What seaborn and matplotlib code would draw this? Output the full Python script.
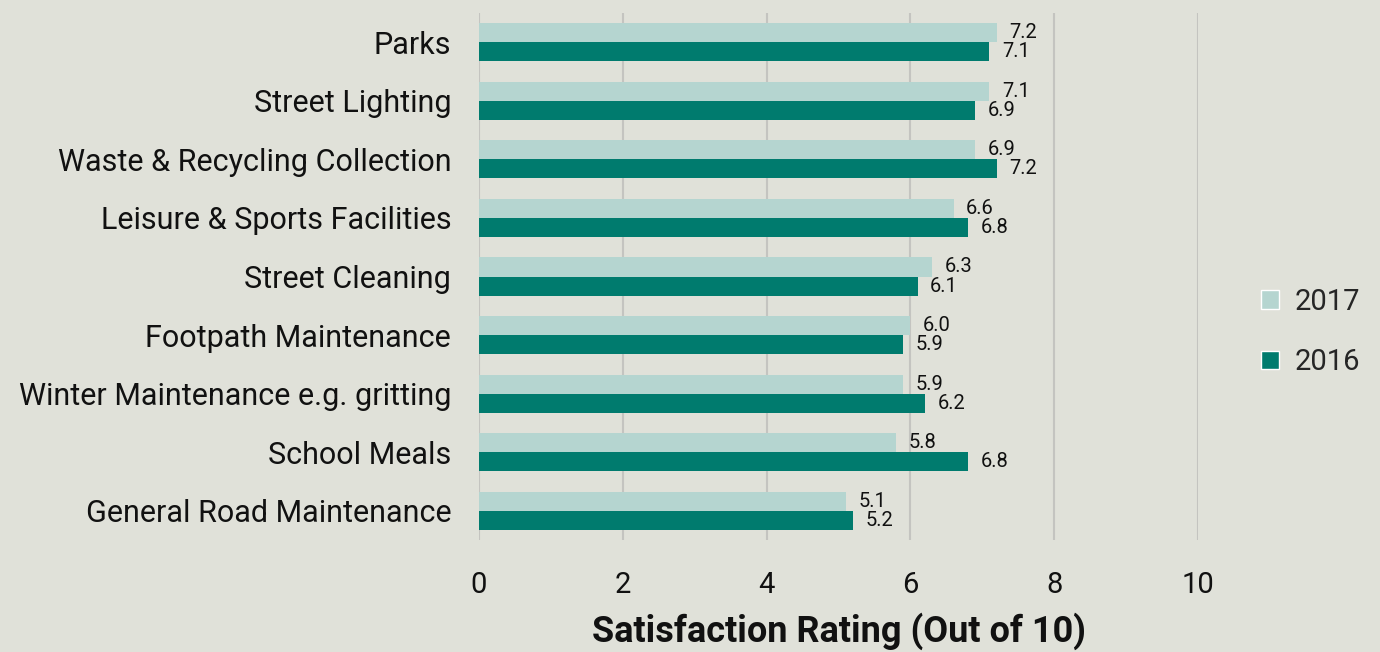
import matplotlib
matplotlib.use("Agg")
import matplotlib.pyplot as plt
import seaborn as sns
import pandas as pd
from matplotlib.patches import Patch

categories = ["Parks", "Street Lighting", "Waste & Recycling Collection",
              "Leisure & Sports Facilities", "Street Cleaning", "Footpath Maintenance",
              "Winter Maintenance e.g. gritting", "School Meals", "General Road Maintenance"]
values_2017 = [7.2, 7.1, 6.9, 6.6, 6.3, 6.0, 5.9, 5.8, 5.1]
values_2016 = [7.1, 6.9, 7.2, 6.8, 6.1, 5.9, 6.2, 6.8, 5.2]
series = ["2017", "2016"]
x_ticks = [0, 2, 4, 6, 8, 10]

BG = "#E0E1D9"
C17 = "#B5D5D0"
C16 = "#007B6E"
FONT = ["Roboto", "DejaVu Sans"]

df = pd.DataFrame({
    "category": categories * 2,
    "year": ["2017"] * len(categories) + ["2016"] * len(categories),
    "value": values_2017 + values_2016,
})

sns.set_theme(style="white")
plt.rcParams["font.family"] = FONT

fig = plt.figure(figsize=(13.8, 6.52), dpi=100, facecolor=BG)
ax = fig.add_axes([479/1380, 1 - 540/652, (1198 - 479)/1380, (540 - 13)/652])
ax.set_facecolor(BG)

sns.barplot(data=df, y="category", x="value", hue="year", hue_order=series,
            order=categories, orient="h", palette=[C17, C16], width=0.65,
            saturation=1, linewidth=0, ax=ax, legend=False, zorder=3)

for cont in ax.containers:
    ax.bar_label(cont, fmt="%.1f", padding=9, fontsize=14.5, color="#111111",
                 family=FONT)

ax.set_xlim(0, 10)
ax.set_ylim(len(categories) - 0.5, -0.5)
ax.set_xticks(x_ticks)
ax.set_xticklabels([str(t) for t in x_ticks])
ax.grid(axis="x", color="#C4C4C0", linewidth=1.5, zorder=0)
ax.grid(axis="y", visible=False)
for s in ax.spines.values():
    s.set_visible(False)
ax.tick_params(axis="x", labelsize=21, pad=22, length=0, colors="#111111")
ax.tick_params(axis="y", labelsize=22, pad=30, length=0, colors="#111111")
for lbl in ax.get_yticklabels():
    lbl.set_x(-0.0)
ax.yaxis.set_tick_params(pad=20)
ax.set_ylabel("")
ax.set_xlabel("Satisfaction Rating (Out of 10)", fontsize=26, fontweight="bold",
              color="#111111", labelpad=10)

handles = [Patch(facecolor=C17, label="2017"), Patch(facecolor=C16, label="2016")]
fig.legend(handles=handles, loc="center left", bbox_to_anchor=(1261/1380, 1 - 332/652),
           frameon=False, fontsize=21, handlelength=0.6, handleheight=0.6,
           handletextpad=0.55, labelspacing=1.1, borderpad=0, borderaxespad=0)

fig.savefig("out.png", dpi=100, facecolor=BG)
